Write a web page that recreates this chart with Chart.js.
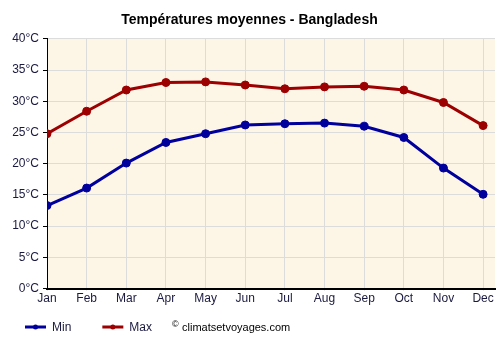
<!DOCTYPE html>
<html>
<head>
<meta charset="utf-8">
<script src="https://cdn.jsdelivr.net/npm/chart.js@4/dist/chart.umd.min.js"></script>
<style>
  html, body { margin: 0; padding: 0; background: #fff; }
  #wrap { width: 500px; height: 350px; }
</style>
</head>
<body>
<div id="wrap"><canvas id="myChart" width="500" height="350"></canvas></div>
<script>
const months = ["Jan", "Feb", "Mar", "Apr", "May", "Jun", "Jul", "Aug", "Sep", "Oct", "Nov", "Dec"];
const minTemps = [13.3, 16.1, 20.1, 23.4, 24.8, 26.2, 26.4, 26.5, 26.0, 24.2, 19.3, 15.1];
const maxTemps = [24.8, 28.4, 31.8, 33.0, 33.1, 32.6, 32.0, 32.3, 32.4, 31.8, 29.8, 26.1];
const yTicks = [0, 5, 10, 15, 20, 25, 30, 35, 40];

const minColor = "#00009c";
const maxColor = "#9c0000";
const font = "'Liberation Sans', Arial, sans-serif";

// x is linear so the plot can run a bit past Dec like the original
const toPoints = vals => vals.map((v, i) => ({ x: i, y: v }));

// plot background + bottom legend + copyright
const extras = {
  id: "extras",
  beforeDraw(chart) {
    const a = chart.chartArea, ctx = chart.ctx;
    ctx.save();
    ctx.fillStyle = "#fdf5e6";
    ctx.fillRect(a.left, a.top, a.right - a.left, a.bottom - a.top);
    ctx.restore();
  },
  afterDraw(chart) {
    const ctx = chart.ctx;
    const y = 327;
    ctx.save();
    ctx.font = "12px " + font;
    ctx.textBaseline = "middle";
    let x = 25;
    chart.data.datasets.forEach(ds => {
      ctx.strokeStyle = ds.borderColor;
      ctx.lineWidth = 3;
      ctx.beginPath();
      ctx.moveTo(x, y);
      ctx.lineTo(x + 21, y);
      ctx.stroke();
      ctx.fillStyle = ds.borderColor;
      ctx.beginPath();
      ctx.arc(x + 10.5, y, 2.5, 0, Math.PI * 2);
      ctx.fill();
      ctx.fillStyle = "#1a1a40";
      ctx.fillText(ds.label, x + 27, y + 1);
      x += 27 + ctx.measureText(ds.label).width + 31;
    });
    ctx.fillStyle = "#000";
    ctx.font = "9px " + font;
    ctx.fillText("©", 172, y - 2);
    ctx.font = "11px " + font;
    ctx.fillText("climatsetvoyages.com", 182, y + 1);
    ctx.restore();
  }
};

new Chart("myChart", {
  type: "line",
  data: {
    datasets: [{
      label: "Min",
      data: toPoints(minTemps),
      borderColor: minColor,
      backgroundColor: minColor,
      borderWidth: 3,
      pointRadius: 4,
      pointBorderWidth: 1,
      pointHoverRadius: 4
    }, {
      label: "Max",
      data: toPoints(maxTemps),
      borderColor: maxColor,
      backgroundColor: maxColor,
      borderWidth: 3,
      pointRadius: 4,
      pointBorderWidth: 1,
      pointHoverRadius: 4
    }]
  },
  options: {
    responsive: false,
    animation: false,
    layout: { padding: { left: 0, right: 1, top: 0, bottom: 43 } },
    plugins: {
      legend: { display: false },
      tooltip: { enabled: false },
      title: {
        display: true,
        text: "Températures moyennes - Bangladesh",
        color: "#000",
        font: { family: font, size: 14, weight: "bold" },
        padding: { top: 12, bottom: 10 }
      }
    },
    scales: {
      x: {
        type: "linear",
        min: 0,
        max: 11.3,
        afterBuildTicks: s => { s.ticks = months.map((m, i) => ({ value: i })); },
        afterFit: s => { s.paddingRight = 0; s.paddingLeft = 0; },
        ticks: {
          autoSkip: false,
          maxRotation: 0,
          padding: 1,
          color: "#1a1a40",
          font: { family: font, size: 12 },
          callback: v => months[v]
        },
        grid: { color: "#dcdcdc", drawTicks: true, tickLength: 2, tickColor: "#dcdcdc" },
        border: { color: "#000", width: 2 }
      },
      y: {
        min: 0,
        max: 40,
        afterBuildTicks: s => { s.ticks = yTicks.map(v => ({ value: v })); },
        afterFit: s => { s.width = 47; },
        ticks: {
          padding: 4,
          color: "#1a1a40",
          font: { family: font, size: 12 },
          callback: v => v + "°C"
        },
        grid: { color: "#dcdcdc", tickLength: 4, tickColor: "#000" },
        border: { color: "#000", width: 1 }
      }
    }
  },
  plugins: [extras]
});
</script>
</body>
</html>
